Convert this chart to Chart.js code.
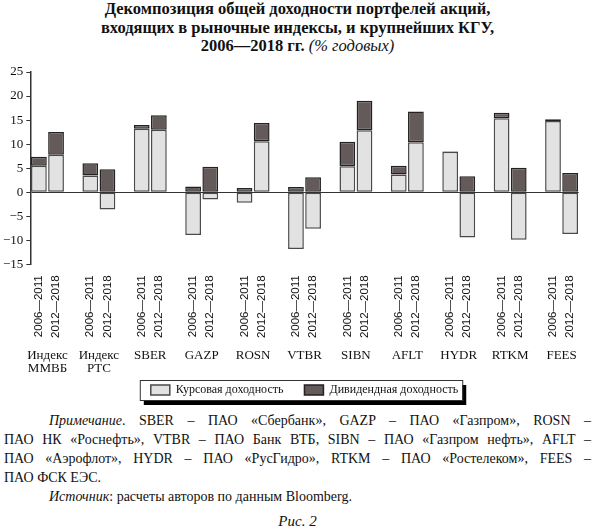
<!DOCTYPE html>
<html>
<head>
<meta charset="utf-8">
<script src="https://cdn.jsdelivr.net/npm/chart.js@4.4.1/dist/chart.umd.min.js"></script>
<style>
  body { margin: 0; width: 595px; height: 529px; background: #fff; position: relative; overflow: hidden; font-family: "Liberation Serif", "DejaVu Serif", serif; color: #111; }
  #title { position: absolute; top: 0; left: 0; width: 595px; text-align: center; font-weight: bold; font-size: 16.5px; line-height: 18.5px; }
  #title i { font-weight: normal; }
  #wrap { position: absolute; top: 58px; left: 0; width: 595px; height: 348px; }
  #notes { position: absolute; top: 410.5px; left: 4px; width: 587px; font-size: 14px; line-height: 19px; }
  #notes .j { text-align: justify; text-align-last: justify; }
  #notes .ind { text-indent: 45px; }
  #fig { position: absolute; top: 513px; left: 0; width: 595px; text-align: center; font-style: italic; font-size: 15px; }
</style>
</head>
<body>
<div id="title">Декомпозиция общей доходности портфелей акций,<br>входящих в рыночные индексы, и крупнейших КГУ,<br>2006—2018 гг. <i>(% годовых)</i></div>
<div id="wrap"><canvas id="chart" width="595" height="348"></canvas></div>
<div id="notes">
  <div class="j ind"><i>Примечание</i>. SBER – ПАО «Сбербанк», GAZP – ПАО «Газпром», ROSN –</div>
  <div class="j">ПАО НК «Роснефть», VTBR – ПАО Банк ВТБ, SIBN – ПАО «Газпром нефть», AFLT –</div>
  <div class="j">ПАО «Аэрофлот», HYDR – ПАО «РусГидро», RTKM – ПАО «Ростелеком», FEES –</div>
  <div>ПАО ФСК ЕЭС.</div>
  <div class="ind"><i>Источник</i>: расчеты авторов по данным Bloomberg.</div>
</div>
<div id="fig">Рис. 2</div>
<script>
const categories = [['Индекс', 'ММВБ'], ['Индекс', 'РТС'], 'SBER', 'GAZP', 'ROSN', 'VTBR', 'SIBN', 'AFLT', 'HYDR', 'RTKM', 'FEES'];
const periods = ['2006—2011', '2012—2018'];

// курсовая и дивидендная доходность, % годовых
const price0611 = [5.5, 3.5, 13.2, -8.9, -2.2, -11.8, 5.4, 3.7, 8.4, 15.4, 14.8];
const div0611   = [1.9, 2.5, 0.8, 1.2, 0.9, 1.1, 5.1, 1.8, 0.1, 1.1, 0.35];
const price1218 = [7.8, -3.6, 13.0, -1.5, 10.6, -7.6, 12.9, 10.4, -9.4, -9.9, -8.7];
const div1218   = [4.7, 4.8, 3.0, 5.3, 3.8, 3.1, 6.1, 6.4, 3.3, 5.1, 4.0];

// 3 slots per company: two bars and an empty gap (last gap dropped)
const slotLabels = [], priceData = [], divData = [], groupCenters = [];
categories.forEach((c, i) => {
  slotLabels.push(periods[0], periods[1]);
  priceData.push(price0611[i], price1218[i]);
  divData.push(div0611[i], div1218[i]);
  groupCenters.push(i * 3 + 0.5);
  if (i < categories.length - 1) {
    slotLabels.push('');
    priceData.push(null);
    divData.push(null);
  }
});
const nSlots = slotLabels.length;

// frame with a drop shadow around the legend
const legendFrame = {
  id: 'legendFrame',
  beforeDraw(chart) {
    const boxes = chart.legend.legendHitBoxes;
    if (!boxes || !boxes.length) return;
    const l = Math.min(...boxes.map(b => b.left)) - 11;
    const r = Math.max(...boxes.map(b => b.left + b.width)) + 4;
    const t = boxes[0].top - 4;
    const b = boxes[0].top + boxes[0].height + 4;
    const ctx = chart.ctx;
    ctx.save();
    ctx.fillStyle = '#000';
    ctx.fillRect(l + 4, t + 5, r - l, b - t);
    ctx.fillStyle = '#fff';
    ctx.fillRect(l, t, r - l, b - t);
    ctx.strokeStyle = '#333';
    ctx.lineWidth = 1;
    ctx.strokeRect(l + 0.5, t + 0.5, r - l, b - t);
    ctx.restore();
  }
};

new Chart(document.getElementById('chart'), {
  type: 'bar',
  data: {
    labels: slotLabels,
    datasets: [{
      label: 'Курсовая доходность',
      data: priceData,
      backgroundColor: '#e2e2e2',
      borderColor: '#4a4a4a',
      borderWidth: 1.5,
      borderSkipped: false
    }, {
      label: 'Дивидендная доходность',
      data: divData,
      backgroundColor: '#645a5a',
      borderColor: '#222',
      borderWidth: 1.5,
      borderSkipped: false
    }]
  },
  options: {
    responsive: false,
    animation: false,
    layout: { padding: { top: 14, right: 4, left: 0, bottom: 0 } },
    datasets: { bar: { barPercentage: 0.92, categoryPercentage: 1 } },
    scales: {
      x: {
        stacked: true,
        grid: { display: false, drawTicks: false },
        border: { display: false },
        ticks: {
          autoSkip: false, minRotation: 90, maxRotation: 90, padding: 11,
          color: '#111', font: { family: 'Liberation Sans', size: 11.5 }
        }
      },
      names: {
        type: 'linear',
        position: 'bottom',
        offset: false,
        min: -0.5,
        max: nSlots - 0.5,
        grid: { display: false, drawTicks: false },
        border: { display: false },
        afterBuildTicks(scale) {
          scale.ticks = groupCenters.map(v => ({ value: v }));
        },
        ticks: {
          padding: 0,
          color: '#111',
          font: { family: 'Liberation Serif', size: 13, lineHeight: 1.0 },
          callback: v => categories[Math.round((v - 0.5) / 3)]
        }
      },
      y: {
        stacked: true,
        min: -15,
        max: 25,
        border: { display: true, color: '#333', width: 1.5 },
        grid: {
          color: ctx => ctx.tick && ctx.tick.value === 0 ? '#333' : 'rgba(0,0,0,0)',
          lineWidth: 1,
          tickColor: '#333',
          tickLength: 4
        },
        ticks: {
          stepSize: 5,
          padding: 3,
          color: '#111',
          font: { family: 'Liberation Serif', size: 13 },
          callback: v => v < 0 ? '−' + Math.abs(v) : String(v)
        }
      }
    },
    plugins: {
      legend: {
        position: 'bottom',
        fullSize: false,
        labels: {
          boxWidth: 19, boxHeight: 10, padding: 9,
          color: '#111',
          font: { family: 'Liberation Serif', size: 12 },
          generateLabels(chart) {
            const items = Chart.defaults.plugins.legend.labels.generateLabels(chart);
            items[0].text += '\u2002\u2002';
            return items;
          }
        }
      },
      tooltip: { enabled: false }
    }
  },
  plugins: [legendFrame]
});
</script>
</body>
</html>
